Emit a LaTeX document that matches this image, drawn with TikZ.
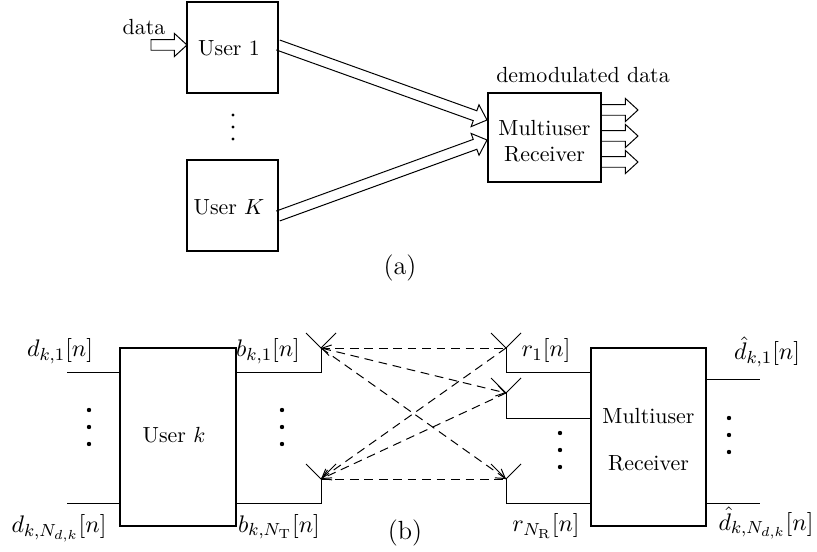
\documentclass[tikz,border=0pt]{standalone}
\usetikzlibrary{calc,arrows.meta}
% fat (hollow) arrow: #2 start, #3 tip, #1 optional closing
\newcommand{\fatarrow}[3][]{%
  \coordinate (fah) at ($(#3)!5.8pt!(#2)$);
  \draw[fatline] ($(#2)!2.4pt!90:(#3)$) -- ($(fah)!2.4pt!90:(#3)$) -- ($(fah)!5.3pt!90:(#3)$) -- (#3)
     -- ($(fah)!5.3pt!-90:(#3)$) -- ($(fah)!2.4pt!-90:(#3)$) -- ($(#2)!2.4pt!-90:(#3)$) #1;}
\begin{document}
\begin{tikzpicture}[x=0.4566pt,y=-0.4566pt,
  box/.style={draw, line width=0.8pt, inner sep=0pt, outer sep=0pt},
  fatline/.style={line width=0.45pt, line join=miter},
  wire/.style={line width=0.45pt},
  radio/.style={line width=0.45pt, dash pattern=on 4pt off 2.6pt},
  lbl/.style={inner sep=0pt, anchor=base, font=\fontsize{10.95}{13.6}\selectfont},
  >={Straight Barb[length=4pt,width=5pt]}]
\useasboundingbox (0,0) rectangle (817,552);

% ---------- (a) ----------
\node[box, minimum width=41.55pt, minimum height=41.55pt] (u1) at (232.5,47.5) {};
\node[inner sep=0pt] (u1t) at (229,48) {User 1};
\node[box, minimum width=41.55pt, minimum height=41.55pt] (uK) at (232.5,205.5) {};
\node[inner sep=0pt] (uKt) at (229,207) {User $K$};
\node[box, minimum width=51.6pt, minimum height=40.64pt] (rxa) at (544.5,137.5) {};
\node[align=center, inner sep=0pt] (rxat) at (544.5,141) {Multiuser\\Receiver};

\node[inner sep=0pt] (datalbl) at (144,27) {data};
\node[inner sep=0pt] (demlbl) at (583,75) {demodulated data};

\fill (233,115) circle[radius=0.7pt];
\fill (233,127) circle[radius=0.7pt];
\fill (233,139) circle[radius=0.7pt];

\coordinate (dsrc) at (151,45);
\coordinate (dtip) at (u1.west |- dsrc);
\fatarrow[-- cycle]{dsrc}{dtip}

\coordinate (u1o) at (u1.east |- dsrc);
\coordinate (uKo) at ($(uK.east)+(0,10.5)$);
\coordinate (rin1) at (487,120);
\coordinate (rinK) at (487,140);
\fatarrow{u1o}{rin1}
\fatarrow{uKo}{rinK}

\coordinate (o1) at (638,110);
\coordinate (o2) at (638,136);
\coordinate (o3) at (638,162);
\coordinate (o1s) at (rxa.east |- o1);
\coordinate (o2s) at (rxa.east |- o2);
\coordinate (o3s) at (rxa.east |- o3);
\fatarrow{o1s}{o1}
\fatarrow{o2s}{o2}
\fatarrow{o3s}{o3}

\node[font=\large, inner sep=0pt] (capa) at (400,268) {(a)};

% ---------- (b) ----------
\node[box, minimum width=52.97pt, minimum height=81.27pt] (uk) at (178,437) {};
\node[inner sep=0pt] (ukt) at (174,435) {User $k$};
\node[box, minimum width=52.5pt, minimum height=81.27pt] (rxb) at (648.5,437) {};
\node[align=center, inner sep=0pt] (rxbt) at (648.5,440) {Multiuser\\[9.5pt]Receiver};

\coordinate (tx1) at (321,348); \coordinate (tx1b) at (321,372);
\coordinate (txN) at (321,479); \coordinate (txNb) at (321,503);
\coordinate (rx1) at (506,348); \coordinate (rx1b) at (506,372);
\coordinate (rx2) at (506,393); \coordinate (rx2b) at (506,418);
\coordinate (rxN) at (506,479); \coordinate (rxNb) at (506,503);
\coordinate (in1) at (67,372);  \coordinate (inN) at (67,503);
\coordinate (out1) at (760,379); \coordinate (outN) at (760,503);

\draw[wire] (in1) -- (in1 -| uk.west);
\draw[wire] (inN) -- (inN -| uk.west);
\draw[wire] (tx1) -- (tx1b) -- (tx1b -| uk.east);
\draw[wire] (txN) -- (txNb) -- (txNb -| uk.east);
\draw[wire] (rx1) -- (rx1b) -- (rx1b -| rxb.west);
\draw[wire] (rx2) -- (rx2b) -- (rx2b -| rxb.west);
\draw[wire] (rxN) -- (rxNb) -- (rxNb -| rxb.west);
\draw[wire] (out1 -| rxb.east) -- (out1);
\draw[wire] (outN -| rxb.east) -- (outN);

\foreach \a in {tx1,txN,rx1,rx2,rxN}
  \draw[wire] ($(\a)+(-15,-15)$) -- (\a) -- ($(\a)+(15,-15)$);

\draw[radio] (tx1) -- (rx1);
\draw[radio,<->] (tx1) -- (rx2);
\draw[radio,->] (tx1) -- (rxN);
\draw[radio,->] (rx1) -- (txN);
\draw[radio,->] (rx2) -- (txN);
\draw[radio] (txN) -- (rxN);

\foreach \x/\y in {89/410,89/427,89/444,282/410,282/427,282/444,560/433,560/450,560/467,729/418,729/435,729/452}
  \fill (\x,\y) circle[radius=1pt];

\node[lbl] (ld1) at (60,357) {$d_{k,1}[n]$};
\node[lbl] (ldN) at (59,532.5) {$d_{k,N_{d,k}}[n]$};
\node[lbl] (lb1) at (268,357) {$b_{k,1}[n]$};
\node[lbl] (lbN) at (279,532) {$b_{k,N_{\mathrm{T}}}[n]$};
\node[lbl] (lr1) at (546,356.5) {$r_1[n]$};
\node[lbl] (lrN) at (546,531.5) {$r_{N_{\mathrm{R}}}[n]$};
\node[lbl] (lh1) at (767,359.5) {$\hat{d}_{k,1}[n]$};
\node[lbl] (lhN) at (766,530) {$\hat{d}_{k,N_{d,k}}[n]$};

\node[font=\large, inner sep=0pt] (capb) at (405,533) {(b)};
\end{tikzpicture}
\end{document}
